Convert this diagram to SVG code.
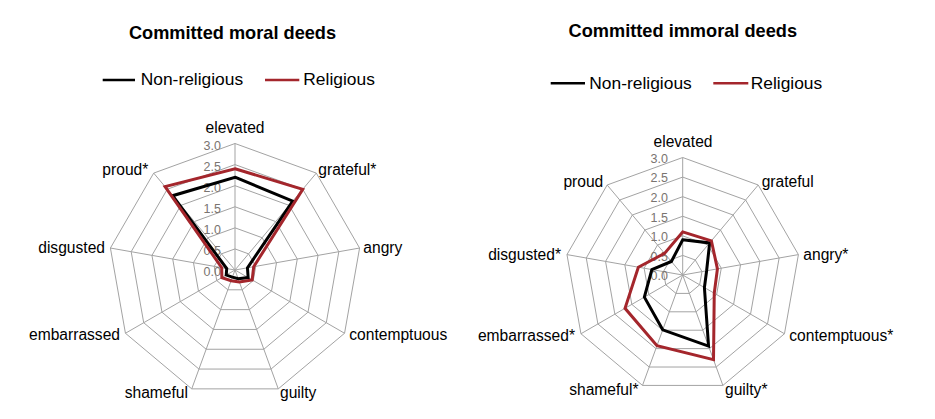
<svg xmlns="http://www.w3.org/2000/svg" width="935" height="419" viewBox="0 0 935 419">
<style>
text{font-family:"Liberation Sans",Arial,sans-serif;fill:#000}
.title{font-size:18.2px;font-weight:bold;text-anchor:middle}
.leg{font-size:17.4px}
.ax{font-size:15.6px}
.tick{font-size:12.5px;fill:#7a7470;text-anchor:end}
.grid{fill:none;stroke:#a3a3a3;stroke-width:1}
.spoke{stroke:#a3a3a3;stroke-width:1}
.nonrel{fill:none;stroke:#000;stroke-width:3;stroke-linejoin:miter}
.rel{fill:none;stroke:#a4262c;stroke-width:3;stroke-linejoin:miter}
.lk{stroke:#000;stroke-width:2.5}
.lr{stroke:#a4262c;stroke-width:2.5}
</style>
<rect width="935" height="419" fill="#fff"/>

<!-- LEFT CHART -->
<g id="chart-moral">
<text class="title" x="232.5" y="39.3">Committed moral deeds</text>
<g id="legend-moral">
<line class="lk" x1="102.7" y1="80" x2="135" y2="80"/>
<text class="leg" x="140.7" y="85">Non-religious</text>
<line class="lr" x1="265" y1="80" x2="299.3" y2="80"/>
<text class="leg" x="303.3" y="85">Religious</text>
</g>
<g id="grid-moral" transform="translate(235 270)">
<polygon class="grid" points="0,-21.08 13.55,-16.15 20.76,-3.66 18.26,10.54 7.21,19.81 -7.21,19.81 -18.26,10.54 -20.76,-3.66 -13.55,-16.15"/>
<polygon class="grid" points="0,-42.17 27.11,-32.30 41.53,-7.32 36.52,21.08 14.42,39.63 -14.42,39.63 -36.52,21.08 -41.53,-7.32 -27.11,-32.30"/>
<polygon class="grid" points="0,-63.25 40.66,-48.45 62.29,-10.98 54.78,31.63 21.63,59.44 -21.63,59.44 -54.78,31.63 -62.29,-10.98 -40.66,-48.45"/>
<polygon class="grid" points="0,-84.33 54.21,-64.60 83.05,-14.64 73.03,42.17 28.84,79.25 -28.84,79.25 -73.03,42.17 -83.05,-14.64 -54.21,-64.60"/>
<polygon class="grid" points="0,-105.42 67.76,-80.75 103.82,-18.30 91.29,52.71 36.05,99.06 -36.05,99.06 -91.29,52.71 -103.82,-18.30 -67.76,-80.75"/>
<polygon class="grid" points="0,-126.5 81.31,-96.90 124.58,-21.96 109.55,63.25 43.26,118.87 -43.26,118.87 -109.55,63.25 -124.58,-21.96 -81.31,-96.90"/>
<line class="spoke" x1="0" y1="0" x2="0" y2="-126.5"/>
<line class="spoke" x1="0" y1="0" x2="81.31" y2="-96.90"/>
<line class="spoke" x1="0" y1="0" x2="124.58" y2="-21.96"/>
<line class="spoke" x1="0" y1="0" x2="109.55" y2="63.25"/>
<line class="spoke" x1="0" y1="0" x2="43.26" y2="118.87"/>
<line class="spoke" x1="0" y1="0" x2="-43.26" y2="118.87"/>
<line class="spoke" x1="0" y1="0" x2="-109.55" y2="63.25"/>
<line class="spoke" x1="0" y1="0" x2="-124.58" y2="-21.96"/>
<line class="spoke" x1="0" y1="0" x2="-81.31" y2="-96.90"/>
</g>
<g id="ticks-moral">
<text class="tick" x="221" y="276">0.0</text>
<text class="tick" x="221" y="254.9">0.5</text>
<text class="tick" x="221" y="233.8">1.0</text>
<text class="tick" x="221" y="212.8">1.5</text>
<text class="tick" x="221" y="191.7">2.0</text>
<text class="tick" x="221" y="170.6">2.5</text>
<text class="tick" x="221" y="149.5">3.0</text>
</g>
<g id="labels-moral">
<text class="ax" x="235" y="133" text-anchor="middle">elevated</text>
<text class="ax" x="318.3" y="175">grateful*</text>
<text class="ax" x="363.3" y="253.3">angry</text>
<text class="ax" x="349.3" y="340">contemptuous</text>
<text class="ax" x="280" y="398">guilty</text>
<text class="ax" x="188" y="398" text-anchor="end">shameful</text>
<text class="ax" x="120" y="340" text-anchor="end">embarrassed</text>
<text class="ax" x="105" y="253.3" text-anchor="end">disgusted</text>
<text class="ax" x="148.3" y="175" text-anchor="end">proud*</text>
</g>
<g id="series-moral" transform="translate(235 270)">
<polygon id="moral-nonreligious" class="nonrel" points="0,-92.77 57.74,-68.80 12.46,-2.20 13.15,7.59 3.17,8.72 -2.60,7.13 -8.76,5.06 -8.30,-1.46 -62.35,-74.30"/>
<polygon id="moral-religious" class="rel" points="0,-101.2 67.76,-80.75 18.69,-3.29 17.16,9.91 4.33,11.89 -3.89,10.70 -13.15,7.59 -13.29,-2.34 -69.93,-83.34"/>
</g>
</g>

<!-- RIGHT CHART -->
<g id="chart-immoral">
<text class="title" x="682.8" y="36.7">Committed immoral deeds</text>
<g id="legend-immoral">
<line class="lk" x1="550.7" y1="83.3" x2="585" y2="83.3"/>
<text class="leg" x="589.3" y="89.3">Non-religious</text>
<line class="lr" x1="713.3" y1="83.3" x2="748.3" y2="83.3"/>
<text class="leg" x="750.7" y="89.3">Religious</text>
</g>
<g id="grid-immoral" transform="translate(682.7 275)">
<polygon class="grid" points="0,-19.58 12.59,-15.00 19.28,-3.40 16.96,9.79 6.70,18.40 -6.70,18.40 -16.96,9.79 -19.28,-3.40 -12.59,-15.00"/>
<polygon class="grid" points="0,-39.17 25.18,-30.00 38.57,-6.80 33.92,19.58 13.40,36.81 -13.40,36.81 -33.92,19.58 -38.57,-6.80 -25.18,-30.00"/>
<polygon class="grid" points="0,-58.75 37.76,-45.00 57.86,-10.20 50.88,29.38 20.09,55.21 -20.09,55.21 -50.88,29.38 -57.86,-10.20 -37.76,-45.00"/>
<polygon class="grid" points="0,-78.33 50.35,-60.00 77.14,-13.60 67.84,39.17 26.79,73.61 -26.79,73.61 -67.84,39.17 -77.14,-13.60 -50.35,-60.00"/>
<polygon class="grid" points="0,-97.92 62.94,-75.01 96.43,-17.00 84.80,48.96 33.49,92.02 -33.49,92.02 -84.80,48.96 -96.43,-17.00 -62.94,-75.01"/>
<polygon class="grid" points="0,-117.5 75.53,-90.01 115.72,-20.40 101.76,58.75 40.19,110.42 -40.19,110.42 -101.76,58.75 -115.72,-20.40 -75.53,-90.01"/>
<line class="spoke" x1="0" y1="0" x2="0" y2="-117.5"/>
<line class="spoke" x1="0" y1="0" x2="75.53" y2="-90.01"/>
<line class="spoke" x1="0" y1="0" x2="115.72" y2="-20.40"/>
<line class="spoke" x1="0" y1="0" x2="101.76" y2="58.75"/>
<line class="spoke" x1="0" y1="0" x2="40.19" y2="110.42"/>
<line class="spoke" x1="0" y1="0" x2="-40.19" y2="110.42"/>
<line class="spoke" x1="0" y1="0" x2="-101.76" y2="58.75"/>
<line class="spoke" x1="0" y1="0" x2="-115.72" y2="-20.40"/>
<line class="spoke" x1="0" y1="0" x2="-75.53" y2="-90.01"/>
</g>
<g id="ticks-immoral">
<text class="tick" x="668" y="280.3">0.0</text>
<text class="tick" x="668" y="260.7">0.5</text>
<text class="tick" x="668" y="241.1">1.0</text>
<text class="tick" x="668" y="221.6">1.5</text>
<text class="tick" x="668" y="202">2.0</text>
<text class="tick" x="668" y="182.4">2.5</text>
<text class="tick" x="668" y="162.8">3.0</text>
</g>
<g id="labels-immoral">
<text class="ax" x="683" y="146.5" text-anchor="middle">elevated</text>
<text class="ax" x="761.7" y="187">grateful</text>
<text class="ax" x="803.3" y="260">angry*</text>
<text class="ax" x="789.3" y="340.5">contemptuous*</text>
<text class="ax" x="725" y="395">guilty*</text>
<text class="ax" x="638.5" y="395" text-anchor="end">shameful*</text>
<text class="ax" x="575" y="340.5" text-anchor="end">embarrassed*</text>
<text class="ax" x="561" y="260" text-anchor="end">disgusted*</text>
<text class="ax" x="603.3" y="187" text-anchor="end">proud</text>
</g>
<g id="series-immoral" transform="translate(682.7 275)">
<polygon id="immoral-nonreligious" class="nonrel" points="0,-35.25 26.94,-32.10 23.92,-4.22 21.71,12.53 25.86,71.04 -19.96,54.84 -38.33,22.13 -30.86,-5.44 -11.33,-13.50"/>
<polygon id="immoral-religious" class="rel" points="0,-43.09 28.70,-34.20 34.72,-6.12 31.55,18.21 30.81,84.66 -25.72,70.67 -57.67,33.29 -44.36,-7.82 -18.13,-21.60"/>
</g>
</g>
</svg>
